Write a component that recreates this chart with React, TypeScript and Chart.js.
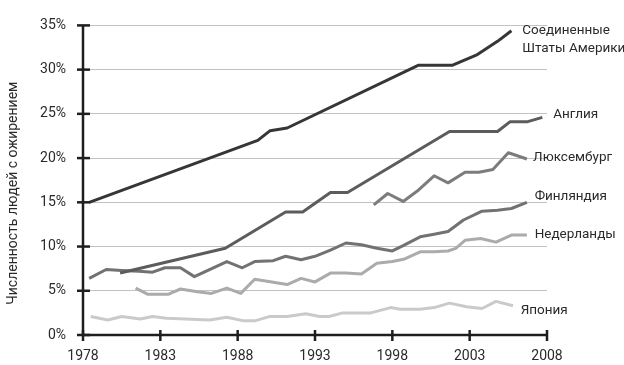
import React, { useEffect, useRef } from "react";
import { Chart, registerables } from "chart.js";

Chart.register(...registerables);

// ---- Data (years, values in %) ----
const usaYears = [1978.4, 1989.3, 1990.1, 1991.2, 1999.7, 2001.9, 2003.5, 2004.8, 2005.7];
const usaValues = [15.0, 22.0, 23.1, 23.4, 30.5, 30.5, 31.7, 33.2, 34.4];

const englandYears = [1980.4, 1987.2, 1991.1, 1992.2, 1994.0, 1995.1, 2001.7, 2004.8, 2005.6, 2006.7, 2007.7];
const englandValues = [7.0, 9.8, 13.9, 13.9, 16.1, 16.1, 23.0, 23.0, 24.1, 24.1, 24.6];

const luxYears = [1996.8, 1997.7, 1998.7, 1999.7, 2000.7, 2001.6, 2002.7, 2003.6, 2004.5, 2005.5, 2006.7];
const luxValues = [14.7, 16.0, 15.1, 16.4, 18.0, 17.2, 18.4, 18.4, 18.7, 20.6, 19.9];

const finlandYears = [1978.4, 1979.5, 1980.5, 1981.6, 1982.5, 1983.3, 1984.3, 1985.2, 1987.3, 1988.3, 1989.1, 1990.3, 1991.1, 1992.1, 1993.0, 1994.0, 1995.0, 1996.0, 1997.0, 1998.0, 1998.7, 1999.8, 2000.7, 2001.6, 2002.6, 2003.8, 2004.8, 2005.7, 2006.7];
const finlandValues = [6.4, 7.4, 7.3, 7.2, 7.1, 7.6, 7.6, 6.6, 8.3, 7.6, 8.3, 8.4, 8.9, 8.5, 8.9, 9.6, 10.4, 10.2, 9.8, 9.5, 10.1, 11.1, 11.4, 11.7, 13.0, 14.0, 14.1, 14.3, 15.0];

const netherlandsYears = [1981.4, 1982.2, 1983.5, 1984.3, 1985.4, 1986.3, 1987.3, 1988.2, 1989.1, 1990.2, 1991.2, 1992.1, 1993.0, 1994.0, 1995.0, 1996.0, 1997.0, 1998.0, 1998.8, 1999.8, 2000.7, 2001.6, 2002.1, 2002.7, 2003.7, 2004.7, 2005.7, 2006.7];
const netherlandsValues = [5.3, 4.6, 4.6, 5.2, 4.9, 4.7, 5.3, 4.7, 6.3, 6.0, 5.7, 6.4, 6.0, 7.0, 7.0, 6.9, 8.1, 8.3, 8.6, 9.4, 9.4, 9.5, 9.8, 10.7, 10.9, 10.5, 11.3, 11.3];

const japanYears = [1978.5, 1979.6, 1980.5, 1981.7, 1982.5, 1983.4, 1986.2, 1987.3, 1988.4, 1989.1, 1990.1, 1991.2, 1992.4, 1993.3, 1993.9, 1994.8, 1996.6, 1997.9, 1998.5, 1999.8, 2000.7, 2001.7, 2002.8, 2003.8, 2004.7, 2005.8];
const japanValues = [2.1, 1.7, 2.1, 1.8, 2.1, 1.9, 1.7, 2.0, 1.6, 1.6, 2.1, 2.1, 2.4, 2.1, 2.1, 2.5, 2.5, 3.1, 2.9, 2.9, 3.1, 3.6, 3.2, 3.0, 3.8, 3.3];

const seriesNames = ["Соединенные Штаты Америки", "Англия", "Люксембург", "Финляндия", "Недерланды", "Япония"];

const xMin = 1978;
const xMax = 2008;
const xStep = 5;
const yMin = 0;
const yMax = 35;
const yStep = 5;

const yTitle = "Численность людей с ожирением";

// End-of-line labels, anchored in data units
const endLabels = [
  { lines: ["Соединенные", "Штаты Америки"], x: 2006.4, y: 34.4, dy: 2.0 },
  { lines: ["Англия"], x: 2008.4, y: 24.9, dy: 0 },
  { lines: ["Люксембург"], x: 2007.1, y: 20.0, dy: 0 },
  { lines: ["Финляндия"], x: 2007.2, y: 15.6, dy: 0 },
  { lines: ["Недерланды"], x: 2007.2, y: 11.4, dy: 0 },
  { lines: ["Япония"], x: 2006.3, y: 2.8, dy: 0 },
];

const FONT = "Roboto, 'Noto Sans', sans-serif";
const TEXT = "#2a2a2a";
const AXIS = "#1e1e1e";

const toPoints = (xs: number[], ys: number[]) => xs.map((x, i) => ({ x, y: ys[i] }));

export default function App() {
  const ref = useRef<HTMLCanvasElement | null>(null);

  useEffect(() => {
    if (!ref.current) return;

    const overlay = {
      id: "overlay",
      afterDatasetsDraw(chart: any) {
        const ctx = chart.ctx;
        const xs = chart.scales.x;
        const ys = chart.scales.y;
        const area = chart.chartArea;
        ctx.save();
        ctx.strokeStyle = AXIS;
        ctx.lineWidth = 2.5;
        ctx.lineCap = "butt";
        // y axis
        ctx.beginPath();
        ctx.moveTo(area.left, ys.getPixelForValue(yMax));
        ctx.lineTo(area.left, ys.getPixelForValue(yMin));
        ctx.stroke();
        // x axis
        ctx.beginPath();
        ctx.moveTo(area.left, ys.getPixelForValue(yMin));
        ctx.lineTo(xs.getPixelForValue(xMax), ys.getPixelForValue(yMin));
        ctx.stroke();
        // y ticks
        for (let v = yMin; v <= yMax; v += yStep) {
          const py = ys.getPixelForValue(v);
          ctx.beginPath();
          ctx.moveTo(area.left - 6, py);
          ctx.lineTo(area.left + 7, py);
          ctx.stroke();
        }
        // x ticks
        for (let v = xMin; v <= xMax; v += xStep) {
          const px = xs.getPixelForValue(v);
          const py = ys.getPixelForValue(yMin);
          ctx.beginPath();
          ctx.moveTo(px, py - 5);
          ctx.lineTo(px, py + 6);
          ctx.stroke();
        }
        // y title
        ctx.fillStyle = TEXT;
        ctx.font = `14px ${FONT}`;
        ctx.textAlign = "center";
        ctx.textBaseline = "middle";
        ctx.translate(13, (area.top + area.bottom) / 2 + 13);
        ctx.rotate(-Math.PI / 2);
        ctx.fillText(yTitle, 0, 0);
        ctx.restore();

        // end labels
        ctx.save();
        ctx.fillStyle = TEXT;
        ctx.font = `13.5px ${FONT}`;
        ctx.textAlign = "left";
        ctx.textBaseline = "middle";
        endLabels.forEach((l) => {
          l.lines.forEach((t, i) => {
            ctx.fillText(t, xs.getPixelForValue(l.x), ys.getPixelForValue(l.y - i * l.dy));
          });
        });
        ctx.restore();
      },
    };

    const lineDs = (label: string, xsArr: number[], ysArr: number[], color: string) => ({
      label,
      data: toPoints(xsArr, ysArr),
      borderColor: color,
      backgroundColor: color,
      borderWidth: 3,
      pointRadius: 0,
      tension: 0,
      borderJoinStyle: "round" as const,
      fill: false,
    });

    const chart = new Chart(ref.current, {
      type: "line",
      data: {
        datasets: [
          lineDs(seriesNames[0], usaYears, usaValues, "#363636"),
          lineDs(seriesNames[1], englandYears, englandValues, "#5c5c5c"),
          lineDs(seriesNames[2], luxYears, luxValues, "#7c7c7c"),
          lineDs(seriesNames[3], finlandYears, finlandValues, "#727272"),
          lineDs(seriesNames[4], netherlandsYears, netherlandsValues, "#ababab"),
          lineDs(seriesNames[5], japanYears, japanValues, "#cacaca"),
        ],
      },
      options: {
        animation: false,
        responsive: false,
        devicePixelRatio: 1,
        layout: { padding: { top: 6, right: 77, left: 0, bottom: 0 } },
        plugins: { legend: { display: false }, tooltip: { enabled: false } },
        scales: {
          x: {
            type: "linear",
            min: xMin,
            max: xMax,
            afterFit: (s: any) => {
              s.height = 30;
            },
            afterBuildTicks: (s: any) => {
              const t = [];
              for (let v = xMin; v <= xMax; v += xStep) t.push({ value: v });
              s.ticks = t;
            },
            grid: { display: false, drawTicks: false },
            border: { display: false },
            ticks: {
              padding: 13,
              color: TEXT,
              font: { family: FONT, size: 14 },
              callback: (v: any) => String(v),
              maxRotation: 0,
              autoSkip: false,
            },
          },
          y: {
            min: yMin,
            max: yMax,
            afterFit: (s: any) => {
              s.width = 83;
            },
            grid: { color: "#c2c2c2", lineWidth: 1, drawTicks: false },
            border: { display: false },
            ticks: {
              stepSize: yStep,
              padding: 17,
              color: TEXT,
              font: { family: FONT, size: 14 },
              callback: (v: any) => `${v}%`,
            },
          },
        },
      },
      plugins: [overlay],
    });

    return () => chart.destroy();
  }, []);

  return (
    <div style={{ position: "fixed", left: 0, top: 0, width: 624, height: 365, background: "#fff" }}>
      <canvas ref={ref} width={624} height={365} style={{ display: "block" }} />
    </div>
  );
}
